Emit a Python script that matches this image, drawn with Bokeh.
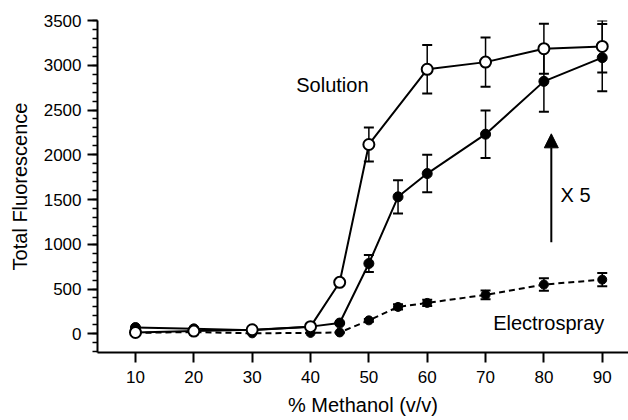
from bokeh.plotting import figure
from bokeh.models import (ColumnDataSource, Whisker, TeeHead, Arrow, NormalHead,
                          Label, SingleIntervalTicker, FixedTicker, Range1d)
from bokeh.embed import file_html
from bokeh.resources import INLINE

# ---- data ----
x_ticks = [10, 20, 30, 40, 50, 60, 70, 80, 90]

sol_open_x = [10, 20, 30, 40, 45, 50, 60, 70, 80, 90]
sol_open_y = [15, 30, 45, 80, 575, 2115, 2955, 3035, 3185, 3210]
sol_open_err = [0, 0, 0, 0, 0, 190, 270, 275, 280, 290]

sol_fill_x = [10, 20, 30, 40, 45, 50, 55, 60, 70, 80, 90]
sol_fill_y = [70, 55, 40, 80, 120, 785, 1530, 1790, 2230, 2820, 3085]
sol_fill_err = [0, 0, 0, 0, 0, 95, 185, 210, 265, 340, 375]

es_x = [10, 20, 30, 40, 45, 50, 55, 60, 70, 80, 90]
es_y = [10, 20, 5, 10, 15, 150, 300, 345, 435, 550, 605]
es_err = [0, 0, 0, 0, 0, 15, 30, 35, 50, 70, 75]

FONT = "Liberation Sans"

p = figure(width=628, height=420, x_range=Range1d(3.49, 94.5), y_range=Range1d(-209, 3500),
           output_backend="svg", toolbar_location=None, title_location=None,
           min_border_left=97, min_border_right=0, min_border_top=20, min_border_bottom=68)
p.outline_line_color = None
p.grid.visible = False
p.background_fill_color = "white"
p.border_fill_color = "white"

p.xaxis.ticker = FixedTicker(ticks=x_ticks)
p.yaxis.ticker = SingleIntervalTicker(interval=500, num_minor_ticks=5)
for ax in (p.xaxis, p.yaxis):
    ax.axis_line_width = 2
    ax.axis_line_color = "black"
    ax.major_tick_line_width = 2
    ax.major_tick_line_color = "black"
    ax.major_tick_out = 10
    ax.major_tick_in = 0
    ax.minor_tick_in = 0
    ax.major_label_text_font = FONT
    ax.major_label_text_font_size = "17px"
    ax.major_label_text_color = "black"
    ax.axis_label_text_font = FONT
    ax.axis_label_text_font_size = "20px"
    ax.axis_label_text_font_style = "normal"
    ax.axis_label_text_color = "black"
p.xaxis.minor_tick_line_color = None
p.yaxis.minor_tick_out = 5
p.yaxis.minor_tick_line_width = 1.5
p.yaxis.minor_tick_line_color = "black"
p.xaxis.major_label_standoff = 8
p.yaxis.major_label_standoff = 6
p.xaxis.axis_label = "% Methanol (v/v)"
p.yaxis.axis_label = "Total Fluorescence"
p.xaxis.axis_label_standoff = 8
p.yaxis.axis_label_standoff = 10

src_open = ColumnDataSource(dict(x=sol_open_x, y=sol_open_y,
                                 lo=[a - b for a, b in zip(sol_open_y, sol_open_err)],
                                 hi=[a + b for a, b in zip(sol_open_y, sol_open_err)]))
src_fill = ColumnDataSource(dict(x=sol_fill_x, y=sol_fill_y,
                                 lo=[a - b for a, b in zip(sol_fill_y, sol_fill_err)],
                                 hi=[a + b for a, b in zip(sol_fill_y, sol_fill_err)]))
src_es = ColumnDataSource(dict(x=es_x, y=es_y,
                               lo=[a - b for a, b in zip(es_y, es_err)],
                               hi=[a + b for a, b in zip(es_y, es_err)]))

def whisk(src):
    w = Whisker(source=src, base="x", lower="lo", upper="hi", dimension="height",
                line_width=1.5, line_color="black",
                upper_head=TeeHead(size=10, line_width=2, line_color="black"),
                lower_head=TeeHead(size=10, line_width=2, line_color="black"))
    p.add_layout(w)

# electrospray (dashed)
whisk(src_es)
p.line("x", "y", source=src_es, line_color="black", line_width=2, line_dash="6 4")
p.scatter("x", "y", source=src_es, size=9, fill_color="black", line_color="black")

# solution filled
whisk(src_fill)
p.line("x", "y", source=src_fill, line_color="black", line_width=2)
p.scatter("x", "y", source=src_fill, size=10, fill_color="black", line_color="black")

# solution open
whisk(src_open)
p.line("x", "y", source=src_open, line_color="black", line_width=2)
p.scatter("x", "y", source=src_open, size=11, fill_color="white", line_color="black",
          line_width=2)

# annotations
p.add_layout(Label(x=37.55, y=2775, text="Solution", text_font=FONT, text_font_size="20px",
                   text_color="black", text_baseline="alphabetic"))
p.add_layout(Label(x=71.3, y=125, text="Electrospray", text_font=FONT, text_font_size="20px",
                   text_color="black", text_baseline="alphabetic"))
p.add_layout(Label(x=82.86, y=1545, text="X 5", text_font=FONT, text_font_size="20px",
                   text_color="black", text_baseline="alphabetic"))
p.add_layout(Arrow(x_start=81.27, y_start=1023, x_end=81.27, y_end=2234, line_width=2,
                   line_color="black",
                   end=NormalHead(size=14, fill_color="black", line_color="black")))

open("out.html", "w").write(file_html(p, INLINE))
